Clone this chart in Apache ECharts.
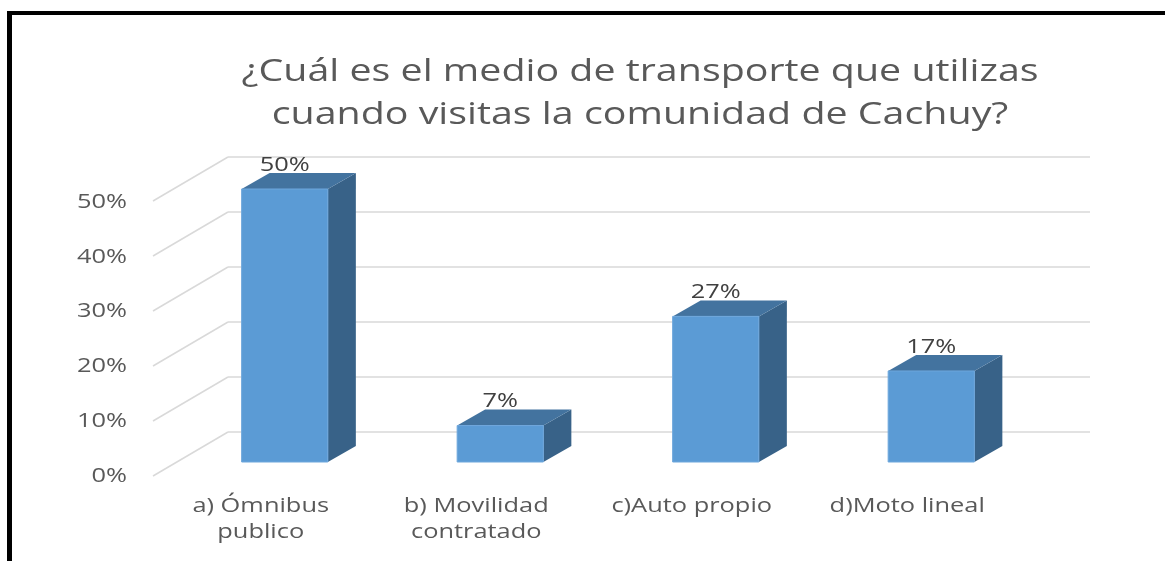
<!DOCTYPE html>
<html>
<head>
<meta charset="utf-8">
<script src="https://cdn.jsdelivr.net/npm/echarts@6/dist/echarts.min.js"></script>
<style>
  html, body { margin: 0; padding: 0; background: #fff; }
  #main { width: 1165px; height: 561px; }
</style>
</head>
<body>
<div id="main"></div>
<script>
// datos
const titleLines = ['¿Cuál es el medio de transporte que utilizas', 'cuando visitas la comunidad de Cachuy?'];
const categories = ['a) Ómnibus\npublico', 'b) Movilidad\ncontratado', 'c)Auto propio', 'd)Moto lineal'];
const shares = [0.5, 0.0667, 0.2667, 0.1667];
const yTicks = [0, 0.1, 0.2, 0.3, 0.4, 0.5];

const FONT = '"Open Sans", "Noto Sans", sans-serif';
const STRETCH = 1.27; // el texto original está estirado a lo ancho
const pct = v => Math.round(v * 100) + '%';

// profundidad 3D
const wallDx = -75, wallDy = 44;   // pared izquierda: fondo -> frente
const barDx = 28, barDy = -16;     // espesor de la barra

const chart = echarts.init(document.getElementById('main'));

function stretchedText(x, y, text, align, vAlign, size, color, lineHeight) {
  return {
    type: 'text',
    x: x, y: y,
    scaleX: STRETCH,
    style: {
      text: text, x: 0, y: 0,
      align: align, verticalAlign: vAlign,
      fontFamily: FONT, fontSize: size, fill: color,
      lineHeight: lineHeight || size * 1.3
    }
  };
}

const option = {
  animation: false,
  grid: [
    // plano frontal (etiquetas)
    { left: 153, right: 150, top: 202, bottom: 85 },
    // pared del fondo
    { left: 228, right: 75, top: 157, bottom: 129 },
    // cara frontal de las barras
    { left: 177, right: 126, top: 189, bottom: 99 }
  ],
  xAxis: [
    { gridIndex: 0, type: 'category', data: categories, show: false },
    { gridIndex: 1, type: 'value', min: 0, max: 1, show: false },
    { gridIndex: 2, type: 'category', data: categories, show: false }
  ],
  yAxis: [
    { gridIndex: 0, type: 'value', min: 0, max: 0.5, interval: 0.1, show: false },
    {
      gridIndex: 1, type: 'value', min: 0, max: 0.5, interval: 0.1,
      axisLine: { show: false }, axisTick: { show: false }, axisLabel: { show: false },
      splitLine: { lineStyle: { color: '#d9d9d9', width: 1.5 } }
    },
    { gridIndex: 2, type: 'value', min: 0, max: 0.5, show: false }
  ],
  series: [
    {
      // diagonales de la pared izquierda
      type: 'custom',
      xAxisIndex: 1, yAxisIndex: 1,
      silent: true,
      data: yTicks.map(v => [0, v]),
      renderItem: function (params, api) {
        const p = api.coord([0, api.value(1)]);
        return {
          type: 'line',
          shape: { x1: p[0] + wallDx, y1: p[1] + wallDy, x2: p[0], y2: p[1] },
          style: { stroke: '#d9d9d9', lineWidth: 1.5 }
        };
      }
    },
    {
      // etiquetas del eje Y (plano frontal)
      type: 'custom',
      xAxisIndex: 0, yAxisIndex: 0,
      silent: true,
      data: yTicks.map(v => [0, v]),
      renderItem: function (params, api) {
        const v = api.value(1);
        const p = api.coord([0, v]);
        return stretchedText(params.coordSys.x - 26, p[1], pct(v), 'right', 'middle', 20, '#595959');
      }
    },
    {
      // etiquetas de categoría
      type: 'custom',
      xAxisIndex: 0, yAxisIndex: 0,
      silent: true,
      data: categories.map((c, i) => [i, 0]),
      renderItem: function (params, api) {
        const i = api.value(0);
        const p = api.coord([i, 0]);
        return stretchedText(p[0], p[1] + 17, categories[i], 'center', 'top', 20, '#595959', 26);
      }
    },
    {
      type: 'custom',
      xAxisIndex: 2, yAxisIndex: 2,
      data: shares.map((v, i) => [i, v]),
      renderItem: function (params, api) {
        const i = api.value(0), v = api.value(1);
        const base = api.coord([i, 0]);
        const top = api.coord([i, v]);
        const w = api.size([1, 0])[0] * 0.4;
        const x0 = base[0] - w / 2, x1 = x0 + w;
        const yb = base[1], yt = top[1];
        return {
          type: 'group',
          children: [
            {
              type: 'polygon',
              shape: { points: [[x1, yb], [x1 + barDx, yb + barDy], [x1 + barDx, yt + barDy], [x1, yt]] },
              style: { fill: '#386288' }
            },
            {
              type: 'polygon',
              shape: { points: [[x0, yt], [x1, yt], [x1 + barDx, yt + barDy], [x0 + barDx, yt + barDy]] },
              style: { fill: '#43739f' }
            },
            {
              type: 'rect',
              shape: { x: x0, y: yt, width: w, height: yb - yt },
              style: { fill: '#5b9bd5', stroke: '#6ea7dc', lineWidth: 1 }
            },
            stretchedText((x0 + x1) / 2, yt + barDy - 8, pct(v), 'center', 'middle', 20, '#404040')
          ]
        };
      }
    }
  ],
  graphic: [
    {
      type: 'text', x: 640, y: 51, scaleX: STRETCH,
      style: {
        text: titleLines.join('\n'), x: 0, y: 0, align: 'center', verticalAlign: 'top',
        fontFamily: FONT, fontSize: 31, fill: '#595959', lineHeight: 43
      }
    },
    { type: 'line', shape: { x1: 9.5, y1: 11, x2: 9.5, y2: 561 }, style: { stroke: '#000', lineWidth: 5 } },
    { type: 'line', shape: { x1: 7, y1: 13, x2: 1165, y2: 13 }, style: { stroke: '#000', lineWidth: 4 } }
  ]
};

chart.setOption(option);
</script>
</body>
</html>
